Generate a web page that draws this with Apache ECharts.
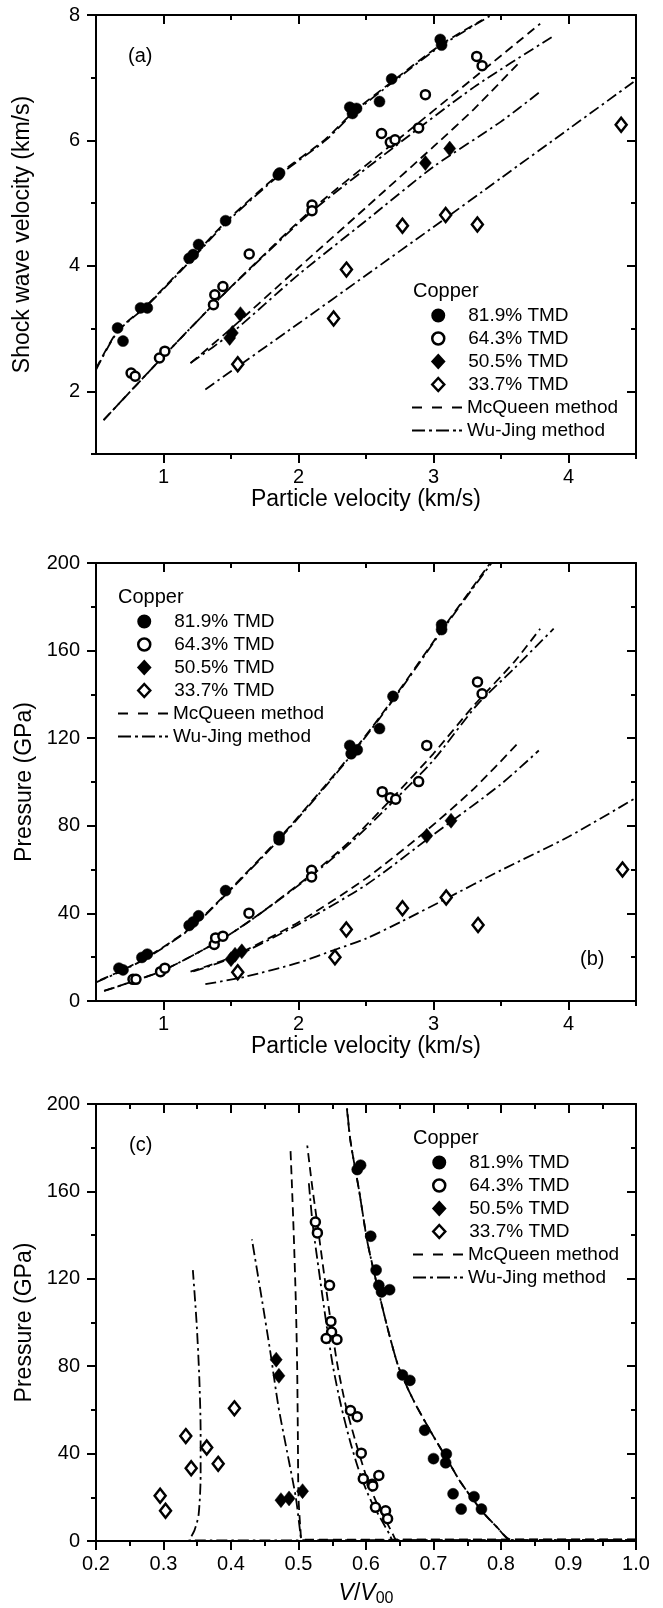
<!DOCTYPE html>
<html><head><meta charset="utf-8">
<script src="https://cdn.jsdelivr.net/npm/echarts@6/dist/echarts.min.js"></script>
<style>html,body{margin:0;padding:0;background:#fff}#c{width:663px;height:1608px}</style>
</head><body><div id="c"></div>
<script>
// ---------- Panel (a): shock wave velocity vs particle velocity ----------
const A_819 = [[0.66,3.01],[0.70,2.80],[0.83,3.33],[0.88,3.33],[1.19,4.12],[1.22,4.18],[1.26,4.34],[1.46,4.72],[1.85,5.45],[1.86,5.48],[2.38,6.53],[2.40,6.43],[2.43,6.51],[2.60,6.62],[2.69,6.98],[3.05,7.61],[3.06,7.52]];
const A_643 = [[0.76,2.29],[0.79,2.24],[0.97,2.53],[1.01,2.64],[1.37,3.38],[1.38,3.54],[1.44,3.67],[1.635,4.19],[2.10,4.97],[2.10,4.88],[2.615,6.11],[2.68,5.97],[2.715,6.01],[2.89,6.20],[2.94,6.73],[3.32,7.34],[3.36,7.19]];
const A_505 = [[1.49,2.85],[1.51,2.93],[1.57,3.23],[2.94,5.64],[3.12,5.87]];
const A_337 = [[1.55,2.43],[2.26,3.16],[2.355,3.94],[2.77,4.64],[3.09,4.81],[3.325,4.66],[4.39,6.25]];
const A_MCQ_819 = [[0.5,2.36],[0.66,2.96],[0.88,3.38],[1.2,4.1],[1.46,4.7],[1.86,5.47],[2.2,6.02],[2.4,6.44],[2.7,6.95],[3.05,7.52],[3.36,7.92]];
const A_WJ_819  = [[0.5,2.34],[0.66,2.95],[0.88,3.37],[1.2,4.08],[1.46,4.68],[1.86,5.45],[2.2,6.0],[2.4,6.42],[2.7,6.93],[3.05,7.5],[3.43,8.0]];
const A_MCQ_643 = [[0.556,1.54],[1.0,2.56],[1.4,3.45],[1.65,3.98],[2.1,4.9],[2.7,5.95],[3.3,7.0],[3.79,7.86]];
const A_WJ_643  = [[0.556,1.54],[1.0,2.56],[1.4,3.45],[1.65,3.97],[2.1,4.87],[2.7,5.88],[3.3,6.85],[3.9,7.68]];
const A_MCQ_505 = [[1.2,2.45],[1.5,3.0],[2.0,3.97],[2.5,4.93],[3.0,5.9],[3.3,6.5],[3.63,7.23]];
const A_WJ_505  = [[1.2,2.45],[1.5,2.92],[2.0,3.86],[2.5,4.72],[3.0,5.58],[3.5,6.3],[3.78,6.76]];
const A_WJ_337  = [[1.31,2.03],[2.0,3.08],[2.5,3.85],[3.0,4.62],[3.5,5.4],[4.0,6.18],[4.5,6.96]];
const A_XTICKS = [1,2,3,4], A_XMINOR = [1.5,2.5,3.5,4.5];
const A_YTICKS = [2,4,6,8], A_YMINOR = [1,3,5,7];

// ---------- Panel (b): pressure vs particle velocity ----------
const B_819 = [[0.67,15],[0.70,14.2],[0.84,19.9],[0.88,21.4],[1.19,34.5],[1.22,36.1],[1.26,38.9],[1.46,50.4],[1.856,73.6],[1.856,75.1],[2.38,116.7],[2.39,112.9],[2.435,114.7],[2.60,124.4],[2.70,139.1],[3.06,171.8],[3.06,169.6]];
const B_643 = [[0.774,9.9],[0.796,9.9],[0.978,13.4],[1.01,15],[1.376,25.8],[1.386,28.8],[1.44,29.6],[1.633,40.1],[2.097,59.7],[2.097,56.6],[2.62,95.6],[2.68,92.8],[2.72,92.1],[2.89,100.2],[2.95,116.7],[3.326,145.7],[3.36,140.3]];
const B_505 = [[1.50,19.1],[1.53,21.1],[1.58,22.7],[2.95,75.4],[3.13,82.3]];
const B_337 = [[1.55,13.1],[2.27,20],[2.354,32.7],[2.77,42.3],[3.094,47.3],[3.33,34.7],[4.40,60.1]];
const B_MCQ_819 = [[0.53,9.5],[0.7,14.2],[0.9,20.8],[1.2,33.3],[1.46,48.8],[1.86,74.5],[2.2,98.5],[2.4,113.5],[2.6,129.5],[2.8,146.5],[3.05,168.5],[3.25,185.5],[3.42,200]];
const B_WJ_819  = [[0.5,8.5],[0.7,14],[0.9,20.5],[1.2,33],[1.46,48.5],[1.86,74],[2.2,98],[2.4,113],[2.6,129],[2.8,146],[3.05,168],[3.25,185],[3.43,200]];
const B_MCQ_643 = [[0.56,4.6],[0.8,9.5],[1.0,14],[1.4,27],[1.65,37],[2.1,58],[2.4,74],[2.7,93],[3.0,113],[3.3,135],[3.6,155],[3.79,170]];
const B_WJ_643  = [[0.56,4.6],[0.8,9.5],[1.0,14],[1.4,27],[1.65,37],[2.1,57.5],[2.4,73],[2.7,91],[3.0,110],[3.32,135],[3.6,152],[3.89,170]];
const B_MCQ_505 = [[1.2,13.4],[1.5,20],[2.0,36],[2.5,56],[2.94,77.4],[3.3,97],[3.63,118]];
const B_WJ_505  = [[1.22,13.5],[1.5,19.5],[2.0,35],[2.5,53],[3.0,76],[3.5,99],[3.78,114.4]];
const B_WJ_337  = [[1.31,7.7],[1.6,11],[2.0,17.5],[2.27,23.4],[2.5,28.5],[2.77,36.5],[3.09,46.6],[3.5,59.7],[4.0,75],[4.5,92.8]];
const B_YTICKS = [0,40,80,120,160,200], B_YMINOR = [20,60,100,140,180];

// ---------- Panel (c): pressure vs V/V00 ----------
const C_819 = [[0.587,170],[0.592,172],[0.607,139.5],[0.615,124],[0.619,117],[0.623,114],[0.635,115],[0.654,76],[0.665,73.5],[0.687,50.7],[0.70,37.7],[0.719,39.8],[0.718,35.8],[0.729,21.6],[0.741,14.6],[0.76,20.3],[0.771,14.6]];
const C_643 = [[0.525,146],[0.528,141],[0.546,117],[0.548,100.5],[0.549,95.6],[0.541,92.7],[0.557,92.2],[0.577,59.7],[0.587,56.9],[0.593,40.2],[0.596,28.5],[0.609,26],[0.619,30],[0.61,25.2],[0.614,15.4],[0.629,13.8],[0.632,10.2]];
const C_505 = [[0.467,83],[0.471,75.6],[0.474,18.7],[0.486,19.5],[0.506,22.8]];
const C_337 = [[0.295,20.7],[0.303,13.8],[0.333,48],[0.341,33.3],[0.364,42.8],[0.381,35.3],[0.405,60.7]];
const C_MCQ_819 = [[1.0,0.6],[0.815,0.6],[0.795,6],[0.771,14],[0.74,27],[0.721,37],[0.696,50],[0.671,64],[0.649,79],[0.634,95],[0.618,115],[0.602,137],[0.59,160],[0.577,183],[0.571,200]];
const C_WJ_819  = [[1.0,0.3],[0.815,0.3],[0.795,6],[0.771,14],[0.74,27],[0.721,37],[0.696,50],[0.671,64],[0.649,79],[0.634,95],[0.618,115],[0.602,137],[0.59,160],[0.577,183],[0.572,198]];
const C_MCQ_643 = [[1.0,0.6],[0.645,0.6],[0.64,3],[0.63,9],[0.615,18],[0.60,30],[0.585,45],[0.57,62],[0.558,80],[0.548,100],[0.538,122],[0.528,145],[0.52,163],[0.513,181]];
const C_WJ_643  = [[1.0,0.3],[0.64,0.3],[0.635,3],[0.624,9],[0.608,18],[0.592,30],[0.577,45],[0.563,62],[0.551,80],[0.541,100],[0.531,122],[0.521,145],[0.515,165]];
const C_MCQ_505 = [[1.0,0.6],[0.505,0.6],[0.503,5],[0.50,20],[0.499,50],[0.498,80],[0.496,110],[0.493,140],[0.49,165],[0.488,180]];
const C_WJ_505  = [[1.0,0.3],[0.505,0.3],[0.503,3],[0.496,20],[0.483,41],[0.47,62],[0.458,87],[0.445,112],[0.431,138]];
const C_WJ_337  = [[1.0,0.3],[0.338,0.3],[0.346,5],[0.352,12],[0.355,30],[0.355,50],[0.353,75],[0.349,100],[0.3435,124]];
const C_XTICKS = [0.2,0.3,0.4,0.5,0.6,0.7,0.8,0.9,1.0], C_XMINOR = [0.25,0.35,0.45,0.55,0.65,0.75,0.85,0.95];

const POINT_NAMES = ['81.9% TMD','64.3% TMD','50.5% TMD','33.7% TMD'];
const LINE_NAMES = ['McQueen method','Wu-Jing method'];

const FONT = 'Liberation Sans, Arial, sans-serif';
const GRIDS = [
  {left:96, top:15, width:540, height:439},
  {left:96, top:563, width:540, height:438},
  {left:96, top:1104, width:540, height:438}
];

function mkAxes(dim, gi, min, max, majors, minors, fmt, name, nameGap, nameRich) {
  const pos = dim === 'x' ? ['bottom','top'] : ['left','right'];
  const ls = {color:'#000', width:2};
  const base = {type:'value', gridIndex:gi, min:min, max:max, splitLine:{show:false}};
  const main = Object.assign({}, base, {
    position:pos[0], name:name, nameLocation:'middle', nameGap:nameGap,
    nameTextStyle:{color:'#000', fontSize:23, fontFamily:FONT, rich:nameRich},
    axisLine:{show:true, onZero:false, lineStyle:ls},
    axisTick:{show:true, customValues:majors, length:9, lineStyle:ls},
    axisLabel:{show:true, customValues:majors, formatter:fmt, color:'#000', fontSize:20, fontFamily:FONT, margin: dim==='x'?13:16}
  });
  const minor = Object.assign({}, base, {
    position:pos[0], axisLine:{show:false, onZero:false},
    axisTick:{show:true, customValues:minors, length:5, lineStyle:ls}, axisLabel:{show:false}
  });
  const mirror = Object.assign({}, base, {
    position:pos[1], axisLine:{show:true, onZero:false, lineStyle:ls},
    axisTick:{show:true, inside:true, customValues:majors, length:9, lineStyle:ls}, axisLabel:{show:false}
  });
  const mirrorMinor = Object.assign({}, base, {
    position:pos[1], axisLine:{show:false, onZero:false},
    axisTick:{show:true, inside:true, customValues:minors, length:5, lineStyle:ls}, axisLabel:{show:false}
  });
  return [main, minor, mirror, mirrorMinor];
}

const intFmt = v => String(Math.round(v));
const decFmt = v => v.toFixed(1);

const xAxes = [].concat(
  mkAxes('x',0,0.5,4.5,A_XTICKS,A_XMINOR,intFmt,'Particle velocity (km/s)',34),
  mkAxes('x',1,0.5,4.5,A_XTICKS,A_XMINOR,intFmt,'Particle velocity (km/s)',34),
  mkAxes('x',2,0.2,1.0,C_XTICKS,C_XMINOR,decFmt,'{i|V}/{i|V}{s|00}',40,
    {i:{fontStyle:'italic', fontSize:23, fontFamily:FONT, color:'#000'}, s:{fontSize:16, fontFamily:FONT, color:'#000', verticalAlign:'bottom', padding:[10,0,0,0]}})
);
const yAxes = [].concat(
  mkAxes('y',0,1,8,A_YTICKS,A_YMINOR,intFmt,'Shock wave velocity (km/s)',62),
  mkAxes('y',1,0,200,B_YTICKS,B_YMINOR,intFmt,'Pressure (GPa)',52),
  mkAxes('y',2,0,200,B_YTICKS,B_YMINOR,intFmt,'Pressure (GPa)',52)
);

function sc(name, data, gi, sym, filled, size) {
  return {type:'scatter', name:name, data:data, xAxisIndex:4*gi, yAxisIndex:4*gi,
    symbol:sym, symbolSize:size, z:5, color:filled ? '#000' : '#fff',
    itemStyle: filled ? {color:'#000', borderColor:'#000', borderWidth:0.5, opacity:1}
                      : {color:'#fff', borderColor:'#000', borderWidth:2.5, opacity:1}};
}
function ln(name, data, gi, dash) {
  return {type:'line', name:name, data:data, xAxisIndex:4*gi, yAxisIndex:4*gi,
    symbol:'none', showSymbol:false, smooth:0.25, clip:true, z:3, color:'#000',
    itemStyle:{color:'#000'},
    lineStyle:{color:'#000', width:1.8, type:dash}};
}
const DASH = [9,5], DASHDOT = [11,4,2.5,4];
const panels = [
  {pts:[A_819,A_643,A_505,A_337], mcq:[A_MCQ_819,A_MCQ_643,A_MCQ_505], wj:[A_WJ_819,A_WJ_643,A_WJ_505,A_WJ_337]},
  {pts:[B_819,B_643,B_505,B_337], mcq:[B_MCQ_819,B_MCQ_643,B_MCQ_505], wj:[B_WJ_819,B_WJ_643,B_WJ_505,B_WJ_337]},
  {pts:[C_819,C_643,C_505,C_337], mcq:[C_MCQ_819,C_MCQ_643,C_MCQ_505], wj:[C_WJ_819,C_WJ_643,C_WJ_505,C_WJ_337]}
];
const series = [];
panels.forEach((p, gi) => {
  p.mcq.forEach(d => series.push(ln(LINE_NAMES[0], d, gi, DASH)));
  p.wj.forEach(d => series.push(ln(LINE_NAMES[1], d, gi, DASHDOT)));
  series.push(sc(POINT_NAMES[0], p.pts[0], gi, 'circle', true, 11));
  series.push(sc(POINT_NAMES[1], p.pts[1], gi, 'circle', false, 9));
  series.push(sc(POINT_NAMES[2], p.pts[2], gi, 'diamond', true, [12,15]));
  series.push(sc(POINT_NAMES[3], p.pts[3], gi, 'diamond', false, [11,14]));
});

const ICON_DASH = 'path://M0,0h10v2.2h-10z M20,0h10v2.2h-10z M40,0h10v2.2h-10z';
const ICON_DASHDOT = 'path://M0,0h13v2.2h-13z M17,0h3v2.2h-3z M24,0h13v2.2h-13z M41,0h3v2.2h-3z M47,0h3v2.2h-3z';
const ROW = 23;
const legendTops = [{l:412, t:306}, {l:118, t:612}, {l:413, t:1153}];
const legends = [];
legendTops.forEach(p => {
  legends.push({
    orient:'vertical', left:p.l + 19, top:p.t, itemWidth:12, itemHeight:13, itemGap:ROW - 19,
    selectedMode:false, padding:0,
    data:[{name:POINT_NAMES[0], icon:'circle'},{name:POINT_NAMES[1], icon:'circle', itemStyle:{borderWidth:2.5}},
          {name:POINT_NAMES[2], icon:'diamond'},{name:POINT_NAMES[3], icon:'diamond', itemStyle:{borderWidth:2.5}}],
    textStyle:{color:'#000', fontSize:19, fontFamily:FONT, lineHeight:19, padding:[0,0,0,19]}
  });
  legends.push({
    orient:'vertical', left:p.l, top:p.t + 4*ROW, itemWidth:50, itemHeight:12, itemGap:ROW - 19,
    selectedMode:false, padding:0,
    data:[{name:LINE_NAMES[0], icon:ICON_DASH},{name:LINE_NAMES[1], icon:ICON_DASHDOT}],
    textStyle:{color:'#000', fontSize:19, fontFamily:FONT, lineHeight:19}
  });
});

const labels = [
  {text:'Copper', x:413, y:292}, {text:'Copper', x:118, y:598}, {text:'Copper', x:413, y:1139},
  {text:'(a)', x:128, y:57}, {text:'(b)', x:580, y:960}, {text:'(c)', x:129, y:1146}
];
const graphics = labels.map(l => ({type:'text', left:l.x, top:l.y - 11, z:10,
  style:{text:l.text, fill:'#000', fontSize:20, fontFamily:FONT}}));

const chart = echarts.init(document.getElementById('c'), null, {renderer:'canvas'});
chart.setOption({
  animation:false,
  backgroundColor:'#fff',
  textStyle:{fontFamily:FONT},
  grid:GRIDS,
  xAxis:xAxes,
  yAxis:yAxes,
  legend:legends,
  graphic:graphics,
  series:series
});
</script></body></html>
